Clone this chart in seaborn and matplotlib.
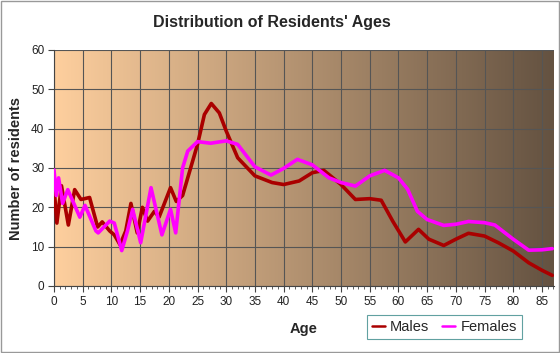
import numpy as np
import pandas as pd
import seaborn as sns
import matplotlib
matplotlib.use('Agg')
import matplotlib.pyplot as plt
from matplotlib.colors import LinearSegmentedColormap

# values
male_age = [0, 0.5, 1.3, 2.5, 3.6, 4.7, 6.2, 7.6, 8.4, 9.7, 10.5, 11.5, 12.5, 13.4, 14.5,
            15.4, 16.3, 17.5, 18.3, 20.3, 21.3, 22.4, 23.6, 25, 26.2, 27.4, 28.8, 30, 32,
            35, 38, 40, 42.7, 45, 47, 50, 52.5, 55, 57, 59, 61.2, 63.5, 65.3, 67.9, 70,
            72.2, 75, 77.4, 80, 82.7, 85, 86.8]
male_val = [25.2, 16, 25.5, 15.5, 24.5, 22, 22.5, 15, 16.3, 14, 13, 10.5, 14, 21, 13.5,
            20, 16.5, 19, 17.5, 25, 21.5, 23, 29, 36, 43.6, 46.4, 44, 39.4, 32.6,
            28, 26.3, 25.8, 26.7, 28.8, 29.4, 25.8, 22, 22.2, 21.8, 16.5, 11.2, 14.4, 11.9, 10.3, 11.9,
            13.4, 12.7, 11, 8.9, 5.9, 4, 2.7]

female_age = [0, 0.4, 0.8, 1.5, 2.4, 4.5, 5.4, 7.3, 7.7, 9.7, 10.5, 11.8, 12.8, 13.7, 15.1,
              16.9, 18.8, 20.3, 21.2, 22.4, 23.3, 25, 27.3, 30, 32, 35, 37.8, 40, 42.4,
              45, 47.9, 50, 52.5, 55, 57.6, 60, 61.6, 63.3, 65, 67.9, 70, 72.2, 75, 76.8,
              80, 82.7, 85, 86.8]
female_val = [29.5, 23, 27.5, 21, 24.5, 17.5, 20.5, 14, 13.5, 16.5, 16, 9, 14, 19.5, 11,
              25, 13, 19.5, 13.5, 30, 34.3, 36.7, 36.3, 36.9, 36, 30.3, 28.2, 29.9, 32.2,
              30.8, 27.5, 26.3, 25.4, 28, 29.4, 27.5, 24.6, 19, 16.9, 15.4, 15.7, 16.4, 16.1, 15.5,
              11.9, 9.1, 9.2, 9.5]

df = pd.concat([
    pd.DataFrame({"Age": male_age, "Residents": male_val, "Sex": "Males"}),
    pd.DataFrame({"Age": female_age, "Residents": female_val, "Sex": "Females"}),
])

sns.set_style("white")
plt.rcParams['font.family'] = ['Liberation Sans', 'DejaVu Sans']

fig = plt.figure(figsize=(5.6, 3.53), dpi=100, facecolor='white')
ax = fig.add_axes([54 / 560, 67 / 353, 500 / 560, 236 / 353])

# background gradient
cmap = LinearSegmentedColormap.from_list("bg", ["#fecf9e", "#645241"])
grad = np.linspace(0, 1, 256).reshape(1, -1)
ax.imshow(grad, cmap=cmap, aspect='auto', extent=[0, 87.1, 0, 60], zorder=0)

sns.lineplot(data=df, x="Age", y="Residents", hue="Sex", sort=False,
             palette={"Males": "#aa0000", "Females": "#ff00ff"},
             linewidth=2.6, ax=ax, zorder=3, estimator=None)
for ln in ax.get_lines():
    ln.set_solid_joinstyle('round')
    ln.set_solid_capstyle('round')

ax.set_xlim(0, 87.1)
ax.set_ylim(0, 60)
ax.set_xticks(range(0, 90, 5))
ax.set_xticks(range(0, 88), minor=True)
ax.set_yticks(range(0, 70, 10))
ax.grid(True, color='#555555', linewidth=0.8, zorder=1)
for ln in ax.get_xgridlines() + ax.get_ygridlines():
    ln.set_zorder(1)
for s in ax.spines.values():
    s.set_visible(False)
ax.spines['left'].set_visible(True)
ax.spines['bottom'].set_visible(True)
ax.spines['left'].set_color('#444444')
ax.spines['bottom'].set_color('#444444')
ax.tick_params(axis='both', which='major', direction='out', length=4, width=0.8,
               color='#444444', labelsize=8.5, labelcolor='#222222', pad=3, left=True, bottom=True)
ax.tick_params(axis='x', which='minor', direction='out', length=2.5, width=0.6,
               color='#444444', bottom=True)

ax.set_xlabel("Age", fontsize=10.5, fontweight='bold', labelpad=10)
ax.set_ylabel("Number of residents", fontsize=10.5, fontweight='bold', labelpad=6)
fig.text(272 / 560, 1 - 23 / 353, "Distribution of Residents' Ages",
         ha='center', va='center', fontsize=11.5, fontweight='bold')

leg = ax.legend(title=None, loc='lower right', bbox_to_anchor=(522 / 560, 14 / 353),
                bbox_transform=fig.transFigure, ncol=2, frameon=True, fontsize=10.5,
                handlelength=0.9, handletextpad=0.35, columnspacing=0.9,
                borderpad=0.35, borderaxespad=0, fancybox=False)
leg.get_frame().set_edgecolor('#3a8a8a')
leg.get_frame().set_facecolor('white')
leg.get_frame().set_linewidth(0.8)
for h in leg.get_lines():
    h.set_linewidth(1.8)

# thin border around the image
fig.patches.append(plt.Rectangle((0.001, 0.002), 0.997, 0.995, transform=fig.transFigure,
                                 fill=False, edgecolor='#999999', linewidth=1))

fig.savefig('out.png', dpi=100, facecolor='white')
